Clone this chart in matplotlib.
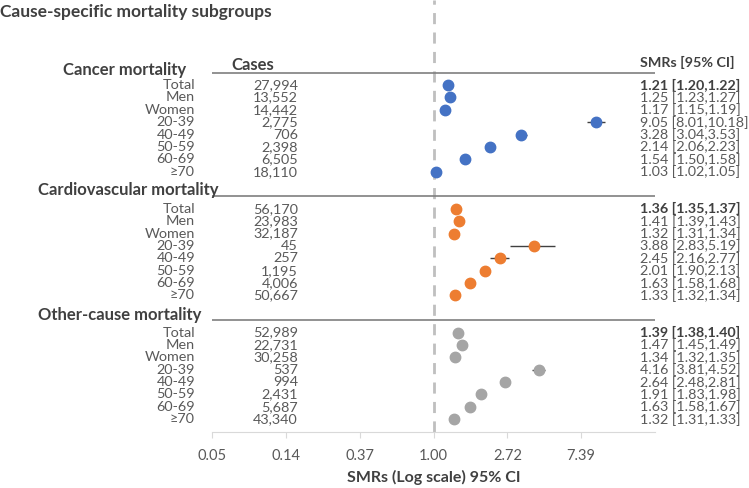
import numpy as np
import matplotlib
matplotlib.use("Agg")
from matplotlib import pyplot as plt
from matplotlib import transforms

plt.rcParams['font.family'] = ['Lato', 'DejaVu Sans']

# datos
grupos = ["Cancer mortality", "Cardiovascular mortality", "Other-cause mortality"]
subgrupos = ["Total", "Men", "Women", "20-39", "40-49", "50-59", "60-69", "≥70"]
colores = ["#4472C4", "#ED7D31", "#A5A5A5"]

casos = [
    ["27,994", "13,552", "14,442", "2,775", "706", "2,398", "6,505", "18,110"],
    ["56,170", "23,983", "32,187", "45", "257", "1,195", "4,006", "50,667"],
    ["52,989", "22,731", "30,258", "537", "994", "2,431", "5,687", "43,340"],
]
smr = [
    [1.21, 1.25, 1.17, 9.05, 3.28, 2.14, 1.54, 1.03],
    [1.36, 1.41, 1.32, 3.88, 2.45, 2.01, 1.63, 1.33],
    [1.39, 1.47, 1.34, 4.16, 2.64, 1.91, 1.63, 1.32],
]
smr_lo = [
    [1.20, 1.23, 1.15, 8.01, 3.04, 2.06, 1.50, 1.02],
    [1.35, 1.39, 1.31, 2.83, 2.16, 1.90, 1.58, 1.32],
    [1.38, 1.45, 1.32, 3.81, 2.48, 1.83, 1.58, 1.31],
]
smr_hi = [
    [1.22, 1.27, 1.19, 10.18, 3.53, 2.23, 1.58, 1.05],
    [1.37, 1.43, 1.34, 5.19, 2.77, 2.13, 1.68, 1.34],
    [1.40, 1.49, 1.35, 4.52, 2.81, 1.98, 1.67, 1.33],
]
ticks = [np.exp(k) for k in range(-3, 3)]

W, H = 749, 488
fig = plt.figure(figsize=(W / 100, H / 100), dpi=100)
ax = fig.add_axes([212 / W, 1 - 432 / H, (655 - 212) / W, 432 / H])

gris = "#595959"
oscuro = "#404040"

# cada fila es una unidad; 10 unidades entre grupos
paso = 10
ax.set_xscale("log")
ax.set_xlim(np.exp(-3), np.exp(3))
ax.set_ylim(28.03, -6.87)

tr = transforms.blended_transform_factory(fig.transFigure, ax.transData)
px = lambda x: x / W

ax.axvline(1, color="#BFBFBF", lw=2, ls=(0, (4, 3)), zorder=1)

pos_titulo = [-1.25, 8.5, 18.55]
izq_titulo = [63, 38, 38]
for g in range(3):
    y = np.arange(8) + g * paso
    s = np.array(smr[g])
    err = [s - np.array(smr_lo[g]), np.array(smr_hi[g]) - s]
    ax.errorbar(s, y, xerr=err, fmt="o", color=colores[g], ms=7.5,
                ecolor=oscuro, elinewidth=1, capsize=0, zorder=3)
    ax.axhline(g * paso - 1, color="#7F7F7F", lw=1.2, zorder=2)
    ax.text(px(izq_titulo[g]), pos_titulo[g], grupos[g], transform=tr,
            fontsize=12, fontweight="bold", color=oscuro, va="center", ha="left")
    for i in range(8):
        ax.text(px(195), y[i], subgrupos[i], transform=tr, fontsize=10.4,
                color=gris, va="center", ha="right")
        ax.text(px(298), y[i], casos[g][i], transform=tr, fontsize=10.4,
                color=gris, va="center", ha="right")
        txt = "%.2f [%.2f,%.2f]" % (smr[g][i], smr_lo[g][i], smr_hi[g][i])
        ax.text(px(640), y[i], txt, transform=tr, fontsize=10.3,
                color=oscuro if i == 0 else gris, va="center", ha="left",
                fontweight="bold" if i == 0 else "normal")

ax.text(px(253), -1.6, "Cases", transform=tr, fontsize=12, fontweight="bold",
        color=oscuro, va="center", ha="center")
ax.text(px(640), -1.86, "SMRs [95% CI]", transform=tr, fontsize=10.3,
        fontweight="bold", color=oscuro, va="center", ha="left")
fig.text(0.0, 1 - 12 / H, "Cause-specific mortality subgroups", fontsize=12.5,
         fontweight="bold", color=oscuro, va="center", ha="left")

for lado in ["top", "right", "left"]:
    ax.spines[lado].set_visible(False)
ax.spines["bottom"].set_color("#D9D9D9")
ax.set_yticks([])
ax.set_xticks(ticks)
ax.set_xticklabels(["%.2f" % t for t in ticks])
ax.minorticks_off()
ax.tick_params(axis="x", colors="#D9D9D9", labelcolor=gris, labelsize=10.5,
               length=4, pad=8)
ax.set_xlabel("SMRs (Log scale) 95% CI", fontsize=11.5, fontweight="bold",
              color=oscuro, labelpad=5)

fig.savefig("out.png", dpi=100)
